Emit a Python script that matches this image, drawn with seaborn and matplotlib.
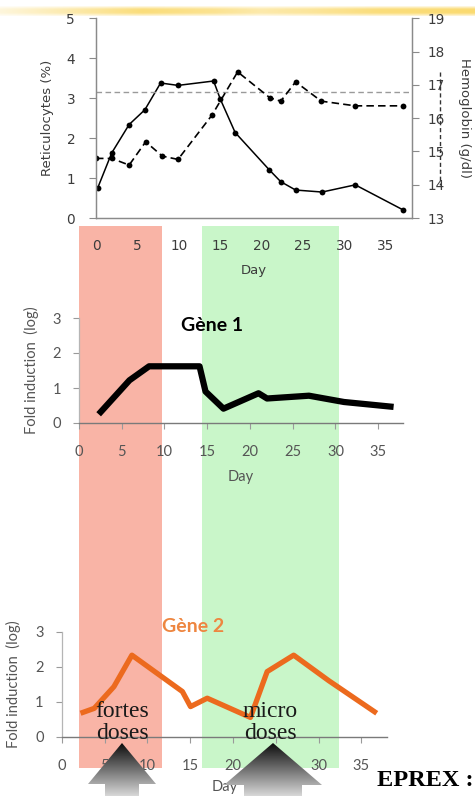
import numpy as np
import pandas as pd
import matplotlib
matplotlib.use("Agg")
import matplotlib.pyplot as plt
import seaborn as sns
from matplotlib.patches import Rectangle, Polygon

# ---------------- data ----------------
days_retic = [0.2, 1.9, 4.0, 5.9, 7.8, 9.9, 14.2, 15.0, 16.8, 20.9, 22.3, 24.1, 27.3, 31.3, 37.1]
retic = [0.75, 1.63, 2.34, 2.71, 3.38, 3.32, 3.43, 2.98, 2.14, 1.21, 0.91, 0.70, 0.65, 0.83, 0.20]

days_hb = [0.0, 1.9, 4.0, 6.0, 8.0, 9.9, 14.0, 17.1, 21.0, 22.3, 24.1, 27.2, 31.3, 37.1]
hemoglobin = [14.79, 14.79, 14.59, 15.29, 14.86, 14.76, 16.09, 17.39, 16.61, 16.51, 17.09, 16.51, 16.37, 16.37]
retic_ref = 3.15

days_g1 = [2.3, 5.9, 8.2, 14.1, 14.8, 16.9, 21.0, 22.0, 26.9, 31.0, 36.8]
gene1 = [0.25, 1.22, 1.62, 1.62, 0.90, 0.41, 0.85, 0.70, 0.78, 0.60, 0.46]

days_g2 = [2.2, 3.8, 6.1, 8.2, 14.1, 15.05, 17.0, 22.05, 24.0, 27.1, 31.2, 36.8]
gene2 = [0.67, 0.81, 1.43, 2.33, 1.29, 0.86, 1.10, 0.55, 1.86, 2.33, 1.60, 0.67]

day_ticks = [0, 5, 10, 15, 20, 25, 30, 35]
retic_ticks = [0, 1, 2, 3, 4, 5]
hb_ticks = [13, 14, 15, 16, 17, 18, 19]
fold_ticks = [0, 1, 2, 3]

df_retic = pd.DataFrame({"Day": days_retic, "Reticulocytes": retic})
df_hb = pd.DataFrame({"Day": days_hb, "Hemoglobin": hemoglobin})
df_g1 = pd.DataFrame({"Day": days_g1, "Fold": gene1})
df_g2 = pd.DataFrame({"Day": days_g2, "Fold": gene2})

# ---------------- style ----------------
sns.set_theme(style="white")
plt.rcParams['font.family'] = ['DejaVu Sans']

W, H = 475, 796
fig = plt.figure(figsize=(W / 100, H / 100), dpi=100)
fig.patch.set_facecolor("white")


def ax_px(l, t, r, b):
    return fig.add_axes([l / W, 1 - b / H, (r - l) / W, (b - t) / H])


# background layer (shaded dose periods, brush stroke)
bg = ax_px(0, 0, W, H)
bg.set_xlim(0, W)
bg.set_ylim(H, 0)
bg.axis("off")
bg.set_zorder(0)
PINK = "#F9B4A6"
GREEN = "#C9F6C9"
bg.add_patch(Rectangle((79, 226), 83, 542, color=PINK, lw=0))
bg.add_patch(Rectangle((202, 226), 137, 542, color=GREEN, lw=0))

# yellow brush stroke at the top
xs = np.linspace(0, 1, 400)
alpha = np.clip(0.2 + 0.6 * np.interp(xs, [0, 0.3, 0.45, 0.55, 0.65, 0.8, 1.0],
                                     [0.0, 0.9, 0.7, 0.45, 0.6, 0.9, 1.0]), 0, 1)
ys = np.linspace(0, 1, 12)
prof = np.interp(ys, [0, 0.3, 0.7, 1], [0.2, 1, 1, 0.3])
rgba = np.zeros((12, 400, 4))
rgba[..., 0] = 0.98
rgba[..., 1] = 0.82
rgba[..., 2] = 0.30
rgba[..., 3] = prof[:, None] * alpha[None, :]
bg.imshow(rgba, extent=[0, W, 16, 6], aspect="auto", interpolation="bilinear")
bg.set_xlim(0, W)
bg.set_ylim(H, 0)

TXT_TOP = "#3c3c3c"
SPINE = "#8a8a8a"

# ---------------- top chart ----------------
ax = ax_px(96, 18.3, 412, 218)
ax.set_zorder(2)
ax.patch.set_alpha(0)
ax2 = ax.twinx()
ax2.patch.set_alpha(0)

sns.lineplot(data=df_retic, x="Day", y="Reticulocytes", ax=ax, color="black", lw=1.1,
             marker="o", markersize=4.2, markeredgewidth=0, estimator=None, sort=False, legend=False)
ax.axhline(retic_ref, color="#9a9a9a", lw=1.0, dashes=(4, 2.5))
sns.lineplot(data=df_hb, x="Day", y="Hemoglobin", ax=ax2, color="black", lw=1.2,
             marker="o", markersize=4.2, markeredgewidth=0, estimator=None, sort=False,
             legend=False, dashes=False, linestyle=(0, (4.5, 2.5)))

ax.set_xlim(0.12, 38.15)
ax.set_ylim(0, 5)
ax2.set_ylim(13, 19)
ax.set_xticks(day_ticks)
ax.set_yticks(retic_ticks)
ax2.set_yticks(hb_ticks)
for a in (ax, ax2):
    a.spines["top"].set_visible(False)
    for s in ("left", "right", "bottom"):
        a.spines[s].set_color(SPINE)
        a.spines[s].set_linewidth(0.9)
ax.tick_params(axis="x", length=0, pad=15, labelsize=9.8, labelcolor=TXT_TOP)
ax.tick_params(axis="y", direction="out", length=5, width=0.8, color=SPINE, pad=10,
               labelsize=9.8, labelcolor=TXT_TOP, left=True)
ax2.tick_params(axis="y", direction="out", length=5, width=0.8, color=SPINE, pad=6,
                labelsize=9.8, labelcolor=TXT_TOP, right=True)
ax.set_xlabel("Day", fontsize=9.5, color=TXT_TOP, labelpad=8)
ax.set_ylabel("Reticulocytes (%)", fontsize=9.5, color=TXT_TOP, labelpad=9)
ax2.set_ylabel("Hemoglobin (g/dl)", fontsize=9.5, color=TXT_TOP, rotation=270, labelpad=19)

# ---------------- middle chart (Gène 1) ----------------
LOW_FONT = ['Lato', 'DejaVu Sans']
TXT_LOW = "#555555"


def style_low(a, xlim, xlabelpad):
    a.patch.set_alpha(0)
    a.set_xlim(*xlim)
    a.set_ylim(0, 3)
    a.set_xticks(day_ticks)
    a.set_yticks(fold_ticks)
    a.spines["top"].set_visible(False)
    a.spines["right"].set_visible(False)
    a.spines["left"].set_color("#b5b5b5")
    a.spines["bottom"].set_color("#7a7a7a")
    a.spines["left"].set_linewidth(0.9)
    a.spines["bottom"].set_linewidth(1.0)
    a.tick_params(axis="x", direction="out", length=4, width=0.8, color="#9a9a9a", pad=12,
                  labelsize=10.5, labelcolor=TXT_LOW, bottom=True)
    a.tick_params(axis="y", direction="out", length=4, width=0.8, color="#9a9a9a", pad=9,
                  labelsize=10.5, labelcolor=TXT_LOW, left=True)
    for lab in a.get_xticklabels() + a.get_yticklabels():
        lab.set_family(LOW_FONT)
    a.set_xlabel("Day", fontsize=10.5, color=TXT_LOW, family=LOW_FONT, labelpad=xlabelpad)
    a.set_ylabel("Fold induction  (log)", fontsize=10.5, color=TXT_LOW, family=LOW_FONT, labelpad=10)


axm = ax_px(79, 318, 403, 423)
axm.set_zorder(2)
sns.lineplot(data=df_g1, x="Day", y="Fold", ax=axm, color="black", lw=4.5,
             estimator=None, sort=False, legend=False, solid_capstyle="butt")
style_low(axm, (0.1, 37.9), 8)
fig.text(211.7 / W, 1 - 325 / H, "Gène 1", ha="center", va="center", fontsize=14,
         fontweight="bold", color="black", family=LOW_FONT, zorder=5)

# ---------------- bottom chart (Gène 2) ----------------
axb = ax_px(61.7, 631.7, 387, 736.7)
axb.set_zorder(2)
ORANGE = "#EC6A1E"
sns.lineplot(data=df_g2, x="Day", y="Fold", ax=axb, color=ORANGE, lw=3.8,
             estimator=None, sort=False, legend=False, solid_capstyle="butt")
style_low(axb, (0.08, 38.0), 5)
fig.text(192.8 / W, 1 - 627 / H, "Gène 2", ha="center", va="center", fontsize=14,
         fontweight="bold", color="#EE8640", family=LOW_FONT, zorder=5)

# ---------------- overlay (annotations, arrows) ----------------
ov = ax_px(0, 0, W, H)
ov.set_xlim(0, W)
ov.set_ylim(H, 0)
ov.axis("off")
ov.set_zorder(10)
ov.patch.set_alpha(0)

SERIF = ['Liberation Serif', 'DejaVu Serif']
ov.text(122.5, 722.5, "fortes\ndoses", ha="center", va="center", fontsize=17,
        family=SERIF, color="#1a1a1a", linespacing=1.12)
ov.text(270, 722.5, "micro\ndoses", ha="center", va="center", fontsize=17,
        family=SERIF, color="#1a1a1a", linespacing=1.12)
ov.text(377, 781, "EPREX :", ha="left", va="center", fontsize=17.5, fontweight="bold",
        family=SERIF, color="black")

grad = np.linspace(0.05, 0.92, 256)[:, None] * np.ones((1, 8))


def arrow(tip_x, tip_y, head_half, base_y, stem_half):
    pts = [(tip_x, tip_y), (tip_x + head_half, base_y), (tip_x + stem_half, base_y),
           (tip_x + stem_half, H + 5), (tip_x - stem_half, H + 5), (tip_x - stem_half, base_y),
           (tip_x - head_half, base_y)]
    poly = Polygon(pts, closed=True, facecolor="none", edgecolor="none")
    ov.add_patch(poly)
    im = ov.imshow(grad, extent=[tip_x - head_half, tip_x + head_half, H + 5, tip_y],
                   cmap="gray", vmin=0, vmax=1, aspect="auto", interpolation="bilinear")
    im.set_clip_path(poly)


arrow(122, 743, 34, 784, 17)
arrow(273, 743, 49, 785, 29)

# stray dashed vertical line near hemoglobin scale
ov.plot([440, 440], [72, 185], color="#333333", lw=1.0, dashes=(3, 2))
ov.set_xlim(0, W)
ov.set_ylim(H, 0)

fig.savefig("out.png", dpi=100)
